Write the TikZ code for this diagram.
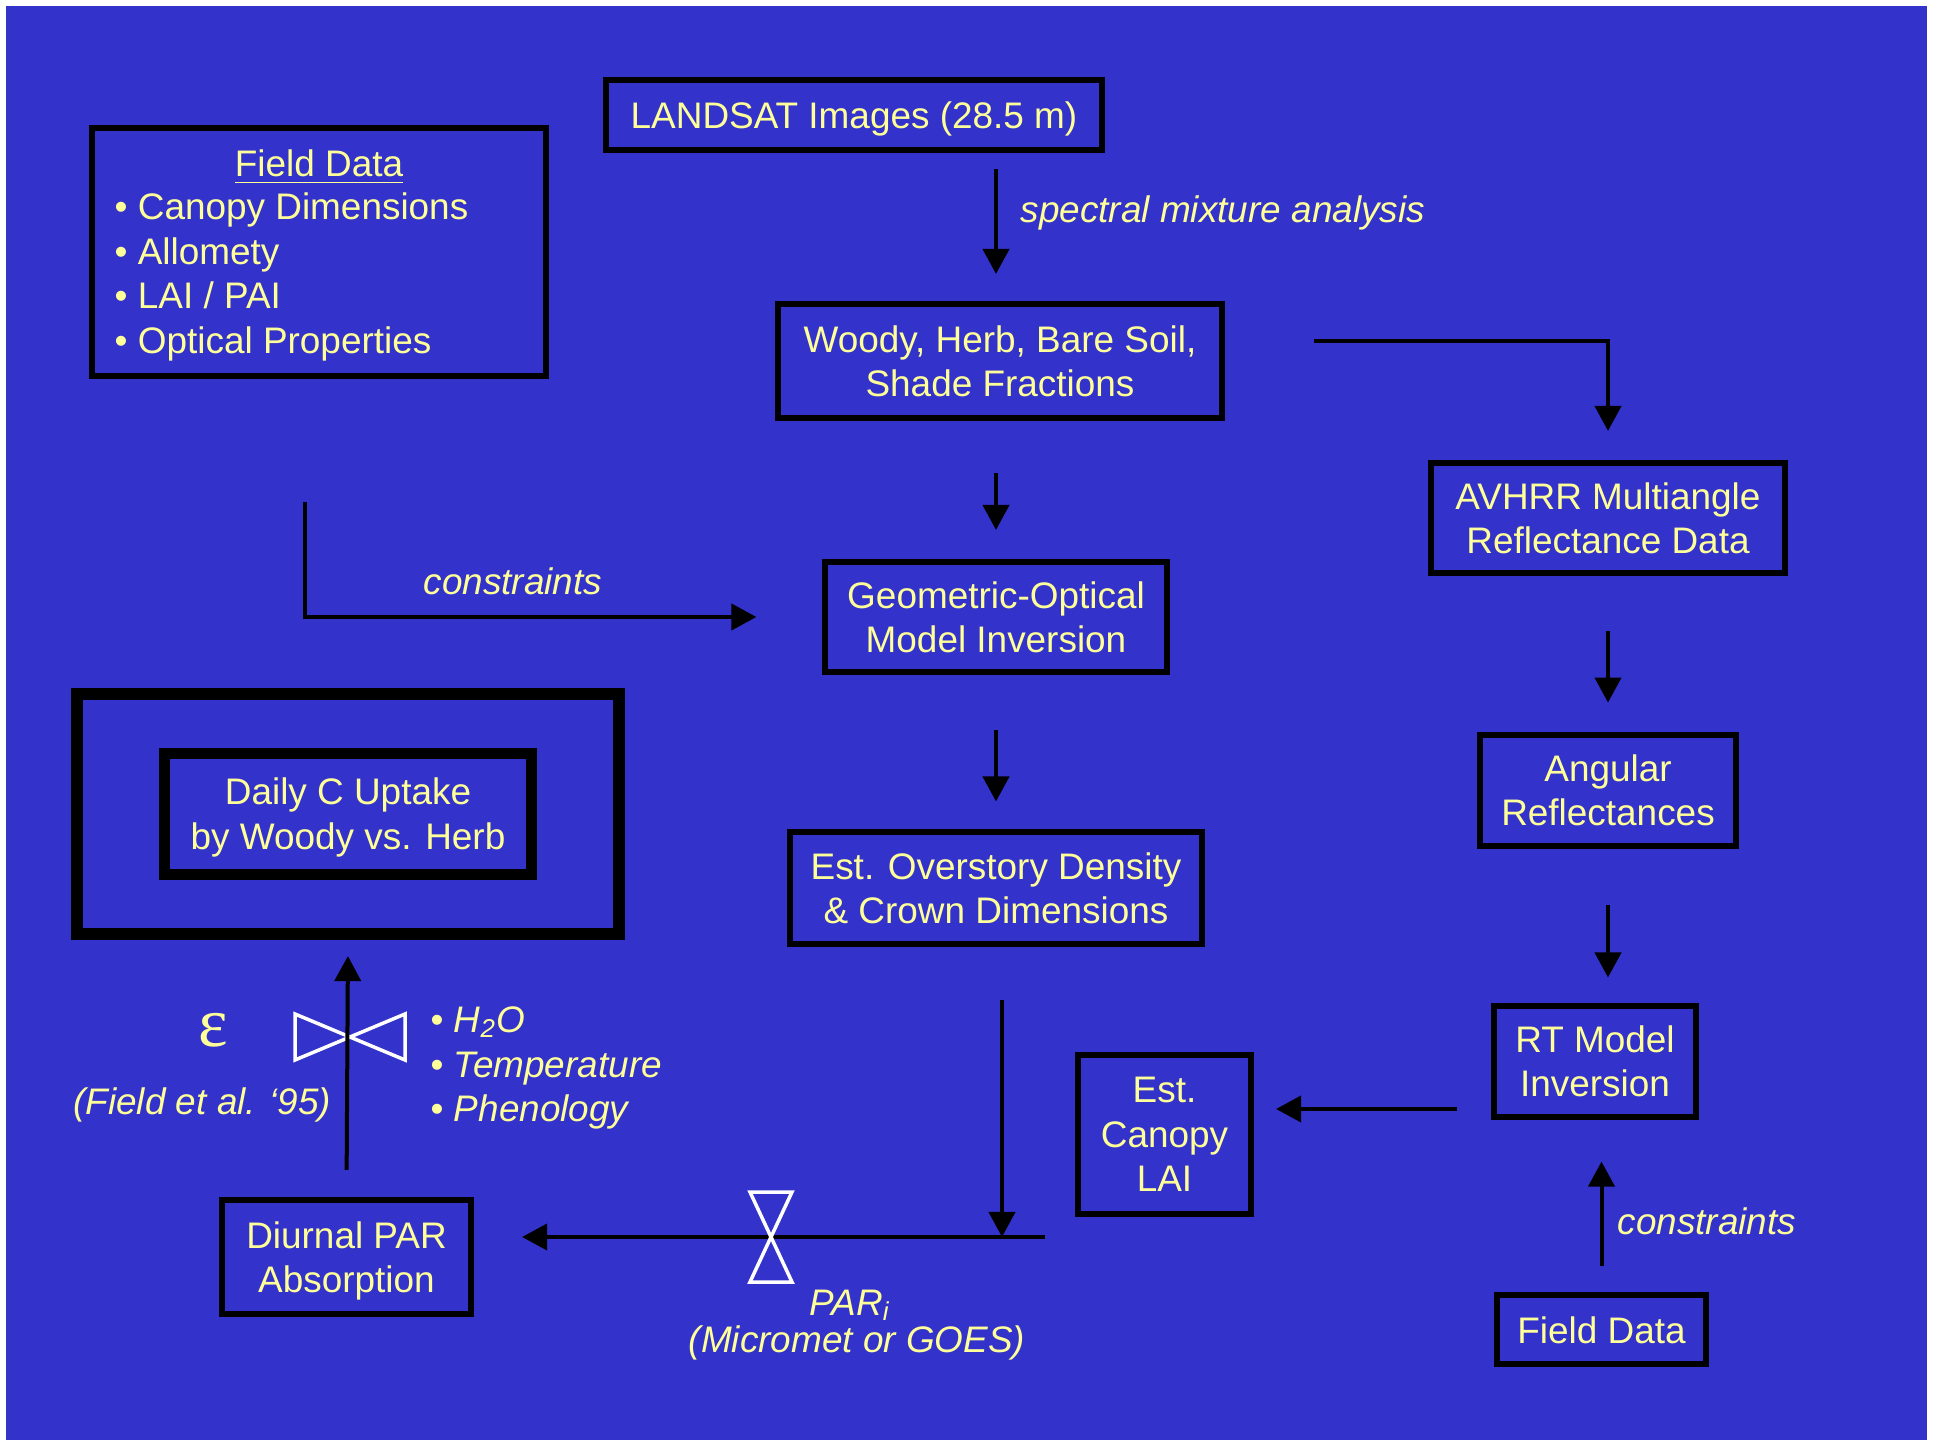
\documentclass[tikz,border=0pt]{standalone}
\usepackage{fontspec}
\setmainfont{Liberation Sans}
\newfontfamily\greekfont{Liberation Serif}
\usetikzlibrary{positioning, arrows.meta}

\definecolor{slideblue}{RGB}{51,51,204}
\definecolor{slideyellow}{RGB}{255,255,153}

\begin{document}
\begin{tikzpicture}[x=0.01cm, y=-0.01cm, on grid,
   every node/.style={text=slideyellow, inner sep=0pt, font=\fontsize{10.5}{12.6}\selectfont},
   box/.style={draw=black, line width=0.06cm, inner sep=0pt, align=center},
   oneline/.style={text height=8.8pt, text depth=1.1pt},
   arr/.style={line width=0.04cm, -{Triangle[length=0.25cm, width=0.26cm]}},
   note/.style={font=\fontsize{10.5}{12.6}\selectfont\itshape},
   valve/.style={draw=white, line width=0.035cm}]
   \useasboundingbox (0,0) rectangle (1933,1440);
   \fill[white] (0,0) rectangle (1933,1440);
   \fill[slideblue] (6,6) rectangle (1927,1440);

   \node[box, minimum width=4.54cm, minimum height=2.48cm] (fieldbox) at (319,252) {};
   \node[anchor=base] (fieldhd) at (319,177) {\underline{Field Data}};
   \foreach \y/\t [count=\i] in {220/{Canopy Dimensions}, 264.5/{Allomety}, 309/{LAI / PAI}, 353.5/{Optical Properties}}
      \node[anchor=base west] (fielditem\i) at (114,\y) {\textbullet\ \t};

   \node[box, oneline, minimum width=4.96cm, minimum height=0.70cm] (landsat) at (854,115) {LANDSAT Images (28.5 m)};
   \node[box, minimum width=4.44cm, minimum height=1.14cm] (woody) at (1000,361) {Woody, Herb, Bare Soil,\\Shade Fractions};
   \node[box, minimum width=3.41cm, minimum height=1.10cm] (geo) at (996,617) {Geometric-Optical\\Model Inversion};
   \node[box, minimum width=4.11cm, minimum height=1.11cm] (overstory) at (996,888) {Est. Overstory Density\\\& Crown Dimensions};
   \node[box, minimum width=3.53cm, minimum height=1.10cm] (avhrr) at (1608,518) {AVHRR Multiangle\\Reflectance Data};
   \node[box, minimum width=2.55cm, minimum height=1.11cm] (angular) [below=2.72cm of avhrr] {Angular\\Reflectances};
   \node[box, minimum width=2.02cm, minimum height=1.10cm] (rt) at (1595,1061.5) {RT Model\\Inversion};
   \node[box, minimum width=1.73cm, minimum height=1.59cm] (lai) at (1164.5,1134.5) {Est.\\Canopy\\LAI};
   \node[box, oneline, minimum width=2.09cm, minimum height=0.69cm] (field2) at (1601.5,1329.5) {Field Data};
   \node[box, minimum width=2.49cm, minimum height=1.14cm] (diurnal) at (346.5,1257) {\rule{0pt}{10pt}Diurnal PAR\\Absorption};
   \node[box, line width=0.12cm, minimum width=5.41cm, minimum height=2.40cm] (dailyout) at (348,814) {};
   \node[box, line width=0.11cm, minimum width=3.67cm, minimum height=1.21cm] (daily) at (348,814) {\rule{0pt}{9.5pt}Daily C Uptake\\by Woody vs. Herb};

   \coordinate (consstart) at (305,502);
   \coordinate (avstart) at (1314,341);
   \coordinate (parjoin) at (1002,1237);
   \coordinate (parend) at (1045,1237);
   \coordinate (laistart) at (1457,1109);
   \coordinate (epsvalve) at (350,1037);
   \coordinate (parvalve) at (771,1237);

   \draw[valve] (epsvalve) ++(-55,-23) -- ++(110,46) -- ++(0,-46) -- ++(-110,46) -- cycle;

   \draw[arr, shorten <=0.16cm, shorten >=0.27cm] (landsat.south -| geo) -- (woody.north -| geo);
   \draw[arr, shorten <=0.52cm, shorten >=0.29cm] (woody.south -| geo) -- (geo.north);
   \draw[arr, shorten <=0.55cm, shorten >=0.28cm] (geo.south) -- (overstory.north);
   \draw[arr, shorten <=0.53cm] (overstory.south -| parjoin) -- (parjoin);
   \draw[arr, shorten >=0.48cm] (parend) -- (parend -| diurnal.east);
   \draw[arr, shorten <=0.27cm, shorten >=0.16cm] (diurnal.north) -- (dailyout.south);
   \draw[arr, shorten >=0.66cm] (consstart) |- (geo.west);
   \draw[arr, shorten >=0.29cm] (avstart) -| (avhrr.north);
   \draw[arr, shorten <=0.55cm, shorten >=0.29cm] (avhrr.south) -- (angular.north);
   \draw[arr, shorten <=0.56cm, shorten >=0.26cm] (angular.south) -- (angular.south |- rt.north);
   \draw[arr, shorten >=0.22cm] (laistart) -- (laistart -| lai.east);
   \draw[arr, shorten <=0.26cm, shorten >=0.42cm] (field2.north) -- (field2.north |- rt.south);

   \draw[valve] (parvalve) ++(-21,-45) -- ++(42,0) -- ++(-42,90) -- ++(42,0) -- cycle;

   \node[note, anchor=base west] (sma) at (1020,223) {spectral mixture analysis};
   \node[note, anchor=base west] (cons1) at (423,595) {constraints};
   \node[note, anchor=base west] (cons2) at (1617,1234) {constraints};
   \node[note, anchor=base] (parlbl) at (850,1315) {PAR\textsubscript{i}};
   \node[note, anchor=base] (parsrc) at (857,1352) {(Micromet or GOES)};
   \node[font=\greekfont\fontsize{20}{20}\selectfont] (eps) at (213,1030) {ε};
   \node[note, anchor=base east] (fieldref) at (332,1114) {(Field et al. ‘95)};
   \foreach \y/\t [count=\i] in {1032/{H\textsubscript{2}O}, 1077/{Temperature}, 1121/{Phenology}}
      \node[anchor=base west] (factor\i) at (430,\y) {\textbullet\ \textit{\t}};
\end{tikzpicture}
\end{document}
